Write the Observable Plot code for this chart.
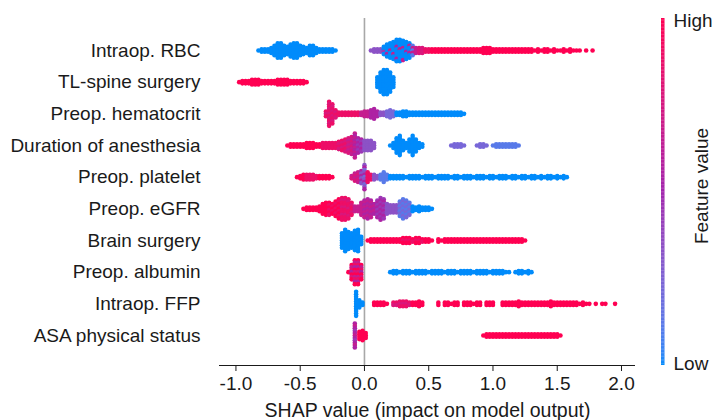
<!DOCTYPE html>
<html><head><meta charset="utf-8">
<script src="https://cdn.jsdelivr.net/npm/d3@7"></script>
<script src="https://cdn.jsdelivr.net/npm/@observablehq/plot@0.6"></script>
<style>
html,body{margin:0;padding:0;background:#fff;}
#wrap{position:relative;width:714px;height:420px;overflow:hidden;}
#wrap svg{position:absolute;top:0;}
</style></head><body><div id="wrap"></div>
<script>
// Feature names, top to bottom
const features = ["Intraop. RBC","TL-spine surgery","Preop. hematocrit","Duration of anesthesia","Preop. platelet","Preop. eGFR","Brain surgery","Preop. albumin","Intraop. FFP","ASA physical status"];
const xTicks = [-1, -0.5, 0, 0.5, 1, 1.5, 2];
const xTitle = "SHAP value (impact on model output)";
const legendHigh = "High", legendLow = "Low", legendTitle = "Feature value";

// Each segment: [start SHAP value, dots stacked per 0.025-wide bin, colour runs [bins, featureValue 0..9 (or mix)]]
const rbc = [
  [-0.825, [1,2,2,2,3,5,7,7,5,4,6,7,7,5,4,3,5,5,3,2,2,2,2,2,1], [[25,0]]],
  [0.05, [1,2,2,2,4,6,7,8,10,10,9,8,7,5,3,3,3,2,
          2,2,2,2,2,2,2,2,2,2,2,2,2,2,2,2,2,
          3,3,3,
          2,2,2,2,2,2,2,2,2,2,2,2,2,
          1,2,1,2,2,1,2,1,1,2,1,2,1,1,
          1,0,1,0,1],
   [[4,3],[1,[0,0,4]],[1,[0,0,0,0,5]],[1,[0,0,0,6,0]],[1,[0,0,0,0,0,6]],[1,[0,0,0,5,0]],[1,[0,0,0,0,6,0]],[1,[0,0,0,6,0]],[1,[0,0,0,0,5]],[1,[0,6,0]],[1,[1,6]],[1,6],[2,7],[2,8],[100,9]]]
];
const tlSpine = [
  [-0.975, [1,2,2,2,3,3,3,2,2,2,2,2,3,3,3,3,2,2,2,2,2,1], [[22,9]]],
  [0.1, [5,9,11,11,9,5], [[6,0]]]
];
const hematocrit = [
  [-0.3, [3,11,9,4,2,2,2,2,2,2,2,2,3,3,4,5,3,2,2,3,4,3,2,2,3,3,2,
          2,2,2,2,2,2,2,2,2,2,2,2,2,2,2,2,1],
   [[4,[8,7]],[7,8],[3,6],[3,5],[2,3],[3,2],[100,0]]]
];
const duration = [
  [-0.6, [1,2,2,2,2,2,3,3,3,2,2,3,3,3,3,3,4,5,6,7,8,11,7,6,5,5,5,3],
   [[11,9],[5,8],[3,[8,7]],[2,[7,6]],[1,[6,5]],[2,[5,4]],[4,3]]],
  [0.2, [1,3,7,9,5,3,6,9,6,3,2], [[11,0]]],
  [0.675, [1,2,2,2,1], [[5,2]]],
  [0.875, [1,2,2,1,0,1,2,2,2,2,2,2,2,1], [[4,2],[10,1]]]
];
const platelet = [
  [-0.525, [1,2,3,3,3,3,2,2,2,2,2,1], [[3,9],[4,8],[5,9]]],
  [-0.1, [2,4,5,6,11,5,3,3,2,3,5,3,2,
          2,2,2,2,1,2,2,2,2,1,2,2,2,1,2,2,2,2,1,2,2,1,2,2,2,1,2,2,2,1,
          2,2,1,2,2,2,1,2,2,1,2,2,1,2,2,1,2,1,2,2,1,2,1,2,1],
   [[3,[6,7]],[1,[5,3]],[1,[3,5,2]],[2,8],[2,3],[3,1],[100,0]]]
];
const egfr = [
  [-0.475, [1,2,2,2,2,3,5,6,6,5,7,9,10,10,9,6,3,3,6,8,9,8,5,8,10,9,5,4,4,4,7,9,8,6,3,2,3,2,2,2,1],
   [[8,9],[4,[9,8]],[4,[8,7,8]],[3,6],[4,[5,6]],[3,[4,5]],[4,3],[4,[1,2]],[100,0]]]
];
const brain = [
  [-0.175, [7,10,8,7,9,10,4], [[7,0]]],
  [0.025, [1,2,2,2,2,2,2,2,2,2,2,3,3,3,2,3,3,2,2,2,1,0,2,1,2,2,2,2,2,2,
           2,2,2,2,2,2,2,2,2,2,2,2,2,2,2,2,2,2,2,1],
   [[11,9],[7,[9,8]],[100,9]]]
];
const albumin = [
  [-0.125, [1,7,11,11,7], [[5,[9,6,8,5,9,7]]]],
  [0.2, [1,2,2,1,2,2,2,1,2,2,2,2,1,2,2,2,2,1,2,2,2,1,2,2,2,2,1,2,2,2,2,1,2,2,2,2,1,1,0,1,2,2,1,2,1],
   [[45,0]]]
];
const ffp = [
  [-0.065, [11,4,2], [[3,0]]],
  [0.075, [2,2,2,2,1,0,2,2,3,3,3,2,2,2,3,2], [[6,9],[6,[8,7]],[100,9]]],
  [0.575, [2,0,2,2,1,2,2,0,2,2,2,1,2,2,0,2,2,2], [[18,9]]],
  [1.075, [2,2,2,2,2,3,2,2,2,2,2,2,2,2,2,3,2,2,2,2,2,2,2,2,1,2,1,1,0,1,0,1,1,0,0,1], [[36,9]]]
];
const asa = [
  [-0.075, [11], [[1,[5,6,5,4]]]],
  [-0.04, [4,5,3], [[3,9]]],
  [0.925, [1,2,2,2,2,2,2,2,2,2,2,2,2,2,2,2,2,2,2,2,2,2,2,2,1], [[25,9]]]
];
const rows = [rbc, tlSpine, hematocrit, duration, platelet, egfr, brain, albumin, ffp, asa];

// ---- layout of the swarm (stacking dots of each bin) ----
const STEP = 0.025, VSTEP = 2.4, ROWPX = 31.67;
const Y_BOTTOM = 9.947, Y_TOP = -1.0105;
function runsToColors(runs, len) {
  const out = [];
  for (const [n, c] of runs) for (let i = 0; i < n && out.length < len; i++) out.push(c);
  while (out.length < len) out.push(out[out.length - 1]);
  return out;
}
const points = [];
rows.forEach((segs, r) => segs.forEach(([start, counts, runs]) => {
  const cols = runsToColors(runs, counts.length);
  counts.forEach((n, i) => {
    const x = +(start + i * STEP).toFixed(4);
    const c = cols[i];
    for (let k = 0; k < n; k++) {
      const cv = Array.isArray(c) ? c[k % c.length] : c;
      points.push({x, y: r + (k - (n - 1) / 2) * VSTEP / ROWPX, v: cv / 9});
    }
  });
}));

const colorScale = {type: "linear", domain: [0, 0.5, 1], range: ["#008bfb", "#a224ad", "#ff0052"], interpolate: "lab"};
const font = "Liberation Sans, Arial, Helvetica, sans-serif";

const main = Plot.plot({
  width: 714, height: 420,
  marginLeft: 219, marginRight: 79, marginTop: 18, marginBottom: 55,
  style: {fontFamily: font, fontSize: "19px", color: "#1a1a1a", background: "transparent"},
  x: {domain: [-1.128, 2.109]},
  y: {domain: [Y_BOTTOM, Y_TOP]},
  color: colorScale,
  marks: [
    Plot.ruleX([0], {stroke: "#a8a8a8", strokeWidth: 1.6}),
    Plot.dot(points, {x: "x", y: "y", fill: "v", r: 2.3}),
    Plot.ruleY([Y_BOTTOM], {stroke: "#1a1a1a", strokeWidth: 1.2}),
    Plot.axisX({ticks: xTicks, tickFormat: d => d.toFixed(1), tickSize: 6, tickPadding: 5, label: null, stroke: "#1a1a1a"}),
    Plot.axisY({ticks: features.map((d, i) => i), tickFormat: i => features[i], tickSize: 0, tickPadding: 19, label: null}),
    Plot.text([xTitle], {text: d => d, frameAnchor: "bottom", dy: 45, lineAnchor: "middle", fontSize: 19.5})
  ]
});
main.style.left = "0px";

const ramp = d3.range(0, 1, 0.004);
const bar = Plot.plot({
  width: 60, height: 420,
  marginLeft: 7, marginRight: 49.5, marginTop: 18, marginBottom: 55,
  style: {fontFamily: font, fontSize: "19px", color: "#1a1a1a", background: "transparent", overflow: "visible"},
  x: {domain: [0, 1], axis: null},
  y: {domain: [0, 1], axis: null},
  color: colorScale,
  marks: [
    Plot.rect(ramp, {x1: 0, x2: 1, y1: d => d, y2: d => Math.min(1, d + 0.0046), fill: d => d}),
    Plot.text([legendHigh], {text: d => d, frameAnchor: "top-right", textAnchor: "start", lineAnchor: "middle", dx: 8.5, dy: 2}),
    Plot.text([legendLow], {text: d => d, frameAnchor: "bottom-right", textAnchor: "start", lineAnchor: "middle", dx: 8.5, dy: -2}),
    Plot.text([legendTitle], {text: d => d, frameAnchor: "right", rotate: -90, textAnchor: "middle", lineAnchor: "middle", dx: 37, dy: -6})
  ]
});
bar.style.left = "654px";

const wrap = document.getElementById("wrap");
wrap.appendChild(main);
wrap.appendChild(bar);
</script>
</body></html>
